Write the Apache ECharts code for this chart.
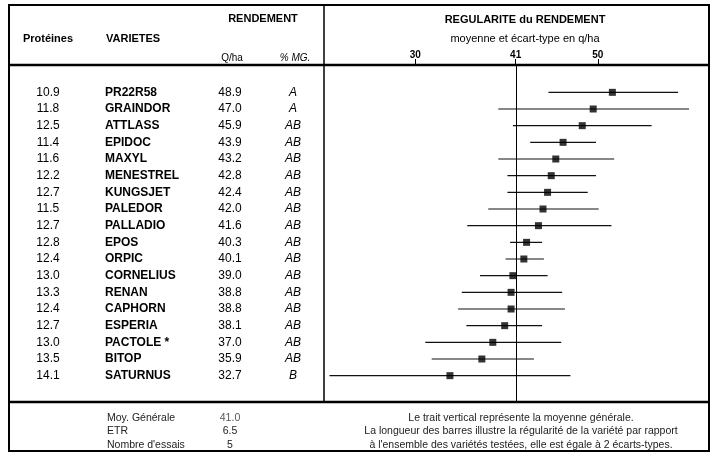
<!DOCTYPE html>
<html><head><meta charset="utf-8">
<script src="https://cdn.jsdelivr.net/npm/echarts@6/dist/echarts.min.js"></script>
<style>html,body{margin:0;padding:0;background:#fff}#c{width:712px;height:453px}</style>
</head><body><div id="c"></div>
<script>
const proteines = ['10.9','11.8','12.5','11.4','11.6','12.2','12.7','11.5','12.7','12.8','12.4','13.0','13.3','12.4','12.7','13.0','13.5','14.1'];
const varietes = ['PR22R58','GRAINDOR','ATTLASS','EPIDOC','MAXYL','MENESTREL','KUNGSJET','PALEDOR','PALLADIO','EPOS','ORPIC','CORNELIUS','RENAN','CAPHORN','ESPERIA','PACTOLE *','BITOP','SATURNUS'];
const rendement = ['48.9','47.0','45.9','43.9','43.2','42.8','42.4','42.0','41.6','40.3','40.1','39.0','38.8','38.8','38.1','37.0','35.9','32.7'];
const groupes = ['A','A','AB','AB','AB','AB','AB','AB','AB','AB','AB','AB','AB','AB','AB','AB','AB','B'];
const moyennes = [51.6, 49.5, 48.3, 46.2, 45.4, 44.9, 44.5, 44.0, 43.5, 42.2, 41.9, 40.7, 40.5, 40.5, 39.8, 38.5, 37.3, 33.8];
const basses = [44.6, 39.1, 40.7, 42.6, 39.1, 40.1, 40.1, 38.0, 35.7, 40.4, 39.9, 37.1, 35.1, 34.7, 35.6, 31.1, 31.8, 20.6];
const hautes = [58.8, 60.0, 55.9, 49.8, 51.8, 49.8, 48.9, 50.1, 51.5, 43.9, 44.1, 44.5, 46.1, 46.4, 43.9, 46.0, 43.0, 47.0];
const ticks = [30, 41, 50];
const moyGenerale = 41.0;
const statLabels = ['Moy. Générale', 'ETR', "Nombre d'essais"];
const statValues = ['41.0', '6.5', '5'];
const notes = ['Le trait vertical représente la moyenne générale.',
  'La longueur des barres illustre la régularité de la variété par rapport',
  "à l'ensemble des variétés testées, elle est égale à 2 écarts-types."];

const FONT = '"Liberation Sans", Arial, sans-serif';
const chart = echarts.init(document.getElementById('c'), null, {renderer: 'canvas'});

function colAxis(data, offset, align, extra) {
  return Object.assign({
    type: 'category', data: data, inverse: true, gridIndex: 0, position: 'left', offset: offset,
    axisLine: {show: false}, axisTick: {show: false}, splitLine: {show: false},
    axisLabel: Object.assign({interval: 0, align: align, margin: 0, color: '#000', fontFamily: FONT, fontSize: 12}, extra || {})
  });
}

const txt = (x, y, s, o) => ({type: 'text', x: x, y: y, style: Object.assign({text: s, fill: '#000', font: '11px ' + FONT, textAlign: 'center', textVerticalAlign: 'middle'}, o || {})});
const line = (x1, y1, x2, y2, w) => ({type: 'line', shape: {x1: x1, y1: y1, x2: x2, y2: y2}, style: {stroke: '#000', lineWidth: w}});

const graphics = [
  {type: 'rect', shape: {x: 9, y: 5, width: 700, height: 446}, style: {fill: 'none', stroke: '#000', lineWidth: 2}},
  line(8, 65, 710, 65, 2.5),
  line(8, 402, 710, 402, 2.5),
  line(324, 5, 324, 402, 1.5),
  txt(263, 19, 'RENDEMENT', {font: 'bold 11px ' + FONT}),
  txt(48, 39, 'Protéines', {font: 'bold 11px ' + FONT}),
  txt(106, 39, 'VARIETES', {font: 'bold 11px ' + FONT, textAlign: 'left'}),
  txt(232, 58, 'Q/ha', {font: '10px ' + FONT}),
  txt(295, 58, '% MG.', {font: 'italic 10px ' + FONT}),
  txt(525, 20, 'REGULARITE du RENDEMENT', {font: 'bold 11px ' + FONT}),
  txt(525, 39, 'moyenne et écart-type en q/ha', {font: '11px ' + FONT})
];
const FY = 418, FS = 13.5;
statLabels.forEach((s, i) => graphics.push(txt(107, FY + i * FS, s, {font: '10.5px ' + FONT, textAlign: 'left', fill: '#222'})));
statValues.forEach((s, i) => graphics.push(txt(230, FY + i * FS, s, {font: '10.5px ' + FONT, fill: i === 0 ? '#555' : '#222'})));
notes.forEach((s, i) => graphics.push(txt(521, FY + i * FS, s, {font: '10.5px ' + FONT, fill: '#222'})));

const option = {
  animation: false,
  backgroundColor: '#fff',
  grid: {left: 324, top: 84, width: 386, height: 300, containLabel: false},
  xAxis: {
    type: 'value', min: 20, max: 62.3, position: 'top', offset: 19,
    axisLine: {show: false}, splitLine: {show: false},
    axisTick: {show: true, inside: false, length: 6, customValues: ticks, lineStyle: {color: '#000', width: 1}},
    axisLabel: {customValues: ticks, margin: 5, color: '#000', fontWeight: 'bold', fontSize: 10, fontFamily: FONT}
  },
  yAxis: [
    colAxis(varietes, 324 - 105, 'left', {fontWeight: 'bold'}),
    colAxis(proteines, 324 - 48, 'center'),
    colAxis(rendement, 324 - 230, 'center'),
    colAxis(groupes, 324 - 293, 'center', {fontStyle: 'italic'})
  ],
  graphic: graphics,
  series: [
    {
      type: 'custom', yAxisIndex: 0, silent: true,
      data: varietes.map((v, i) => [basses[i], hautes[i], i]),
      renderItem: function (params, api) {
        const a = api.coord([api.value(0), api.value(2)]);
        const b = api.coord([api.value(1), api.value(2)]);
        return {type: 'line', shape: {x1: a[0], y1: a[1], x2: b[0], y2: b[1]}, style: {stroke: '#111', lineWidth: 1.2}};
      }
    },
    {
      type: 'custom', yAxisIndex: 0, silent: true, clip: false,
      data: [[moyGenerale, 0]],
      renderItem: function (params, api) {
        const p = api.coord([api.value(0), api.value(1)]);
        const x = Math.round(p[0]) + 0.5;
        return {type: 'line', shape: {x1: x, y1: 65, x2: x, y2: 402}, style: {stroke: '#000', lineWidth: 1}};
      }
    },
    {
      type: 'scatter', yAxisIndex: 0, symbol: 'rect', symbolSize: 7, silent: true,
      itemStyle: {color: '#000'},
      data: moyennes.map((v, i) => [v, i])
    }
  ]
};
chart.setOption(option);
</script></body></html>
